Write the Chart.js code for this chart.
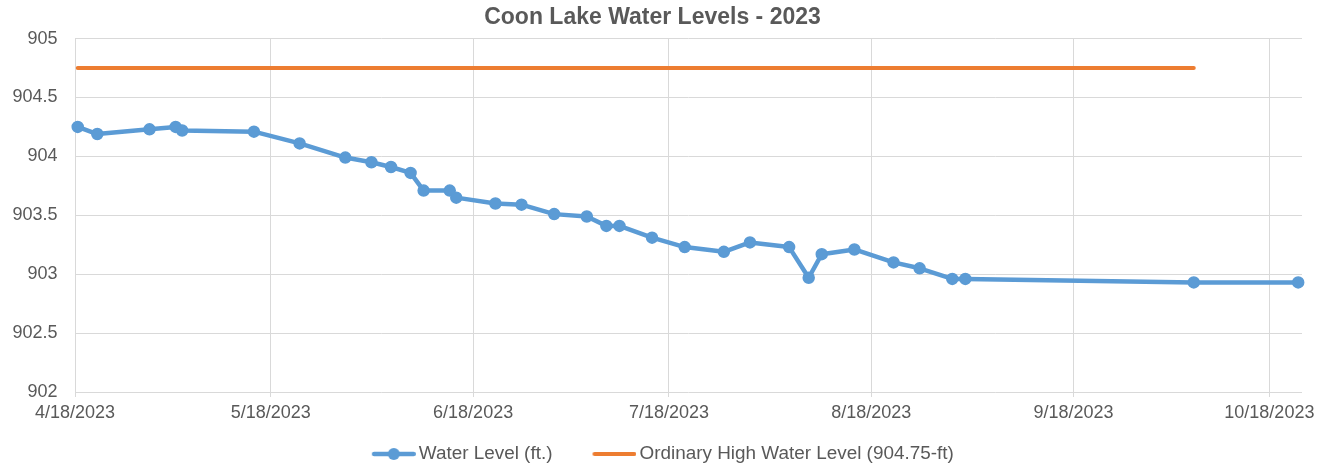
<!DOCTYPE html>
<html>
<head>
<meta charset="utf-8">
<title>Coon Lake Water Levels - 2023</title>
<script src="https://cdn.jsdelivr.net/npm/chart.js@4.4.1/dist/chart.umd.min.js"></script>
<style>
    html, body { margin: 0; padding: 0; background: #fff; }
    #wrap { width: 1334px; height: 470px; }
</style>
</head>
<body>
<div id="wrap"><canvas id="levelChart" width="1334" height="470"></canvas></div>
<script>
/* =====================
   DATA
===================== */
const readingDates = [
    '4/18/2023', '4/21/2023', '4/29/2023', '5/3/2023', '5/4/2023', '5/15/2023',
    '5/22/2023', '5/29/2023', '6/2/2023', '6/5/2023', '6/8/2023', '6/10/2023',
    '6/14/2023', '6/15/2023', '6/21/2023', '6/25/2023', '6/30/2023', '7/5/2023',
    '7/8/2023', '7/10/2023', '7/15/2023', '7/20/2023', '7/26/2023', '7/30/2023',
    '8/5/2023', '8/8/2023', '8/10/2023', '8/15/2023', '8/21/2023', '8/25/2023',
    '8/30/2023', '9/1/2023', '10/6/2023', '10/22/2023',
];
const readingHour = 10; // readings sit a bit right of the date gridlines (morning readings)
const waterLevels = [
    904.25, 904.19, 904.23, 904.25, 904.22, 904.21,
    904.11, 903.99, 903.95, 903.91, 903.86, 903.71,
    903.71, 903.65, 903.60, 903.59, 903.51, 903.49,
    903.41, 903.41, 903.31, 903.23, 903.19, 903.27,
    903.23, 902.97, 903.17, 903.21, 903.10, 903.05,
    902.96, 902.96, 902.93, 902.93,
];
const ohwDates = ['4/18/2023', '10/6/2023'];
const ohwLevels = [904.75, 904.75];

const xTickLabels = ['4/18/2023', '5/18/2023', '6/18/2023', '7/18/2023', '8/18/2023', '9/18/2023', '10/18/2023'];
const xRange = ['4/18/2023', '10/23/2023'];
const yRange = [902, 905];
const yStep = 0.5;

const seriesNames = ['Water Level (ft.)', 'Ordinary High Water Level (904.75-ft)'];

/* =====================
   HELPERS
===================== */
const BLUE = '#5B9BD5';
const ORANGE = '#ED7D31';
const TEXT = '#595959';
const GRID = '#d9d9d9';

// days since the first date (no date adapter offline, so a linear axis of days)
const toDay = (s, hour = 0) => {
    const [m, d, y] = s.split('/').map(Number);
    return (Date.UTC(y, m - 1, d, hour) - Date.UTC(2023, 3, 18)) / 86400000;
};

const xTickDays = xTickLabels.map((s) => toDay(s));

// legend swatch: line (with marker) drawn on a canvas, left margin keeps the
// swatch close to its text while leaving room between the two entries
const SWATCH_MARGIN = 27;
const legendIcon = (color, width, dot) => {
    const c = document.createElement('canvas');
    c.width = 44 + SWATCH_MARGIN;
    c.height = 16;
    const ctx = c.getContext('2d');
    ctx.strokeStyle = color;
    ctx.lineWidth = width;
    ctx.lineCap = 'round';
    ctx.beginPath();
    ctx.moveTo(SWATCH_MARGIN + width / 2, 8);
    ctx.lineTo(SWATCH_MARGIN + 44 - width / 2, 8);
    ctx.stroke();
    if (dot) {
        ctx.fillStyle = color;
        ctx.beginPath();
        ctx.arc(SWATCH_MARGIN + 22, 8, 6, 0, Math.PI * 2);
        ctx.fill();
    }
    return c;
};
const legendIcons = [legendIcon(BLUE, 4.5, true), legendIcon(ORANGE, 4, false)];

Chart.defaults.font.family = "'Liberation Sans', Arial, sans-serif";
Chart.defaults.color = TEXT;

/* =====================
   CHART
===================== */
new Chart(document.getElementById('levelChart'), {
    type: 'line',
    data: {
        datasets: [
            {
                label: seriesNames[0],
                data: readingDates.map((d, i) => ({ x: toDay(d, readingHour), y: waterLevels[i] })),
                borderColor: BLUE,
                backgroundColor: BLUE,
                borderWidth: 4.5,
                borderCapStyle: 'round',
                borderJoinStyle: 'round',
                pointRadius: 5.5,
                pointBorderWidth: 1.5,
                pointBorderColor: BLUE,
                pointBackgroundColor: BLUE,
                tension: 0,
                clip: false,
            },
            {
                label: seriesNames[1],
                data: ohwDates.map((d, i) => ({ x: toDay(d, readingHour), y: ohwLevels[i] })),
                borderColor: ORANGE,
                backgroundColor: ORANGE,
                borderWidth: 4,
                borderCapStyle: 'round',
                pointRadius: 0,
                tension: 0,
                clip: false,
            },
        ],
    },
    options: {
        responsive: false,
        animation: false,
        devicePixelRatio: 1,
        layout: { padding: { left: 0, right: 29, top: 0, bottom: 0 } },
        plugins: {
            title: {
                display: true,
                text: 'Coon Lake Water Levels - 2023',
                color: TEXT,
                font: { size: 23, weight: 'bold' },
                padding: { top: 4, bottom: 7 },
            },
            legend: {
                position: 'bottom',
                maxHeight: 45,
                labels: {
                    usePointStyle: true,
                    pointStyleWidth: 58.1,
                    padding: 19.5,
                    color: TEXT,
                    font: { size: 18.9 },
                    generateLabels: (chart) =>
                        Chart.defaults.plugins.legend.labels.generateLabels(chart).map((item, i) => ({
                            ...item,
                            pointStyle: legendIcons[i],
                        })),
                },
            },
            tooltip: { enabled: false },
        },
        scales: {
            x: {
                type: 'linear',
                min: toDay(xRange[0]),
                max: toDay(xRange[1]),
                afterBuildTicks: (scale) => {
                    scale.ticks = xTickDays.map((v) => ({ value: v }));
                },
                afterFit: (scale) => {
                    scale.height = 33;
                    scale.paddingRight = 32;
                },
                grid: { color: GRID, tickLength: 5, drawTicks: true },
                border: { display: false },
                ticks: {
                    autoSkip: false,
                    maxRotation: 0,
                    padding: 5.5,
                    color: TEXT,
                    font: { size: 18 },
                    callback: (value, index) => xTickLabels[index],
                },
            },
            y: {
                min: yRange[0],
                max: yRange[1],
                afterFit: (scale) => {
                    scale.width = 75;
                },
                grid: { color: GRID, drawTicks: false },
                border: { display: false },
                ticks: {
                    stepSize: yStep,
                    padding: 17.5,
                    color: TEXT,
                    font: { size: 18 },
                    callback: (value) => String(Math.round(value * 10) / 10),
                },
            },
        },
    },
});
</script>
</body>
</html>
